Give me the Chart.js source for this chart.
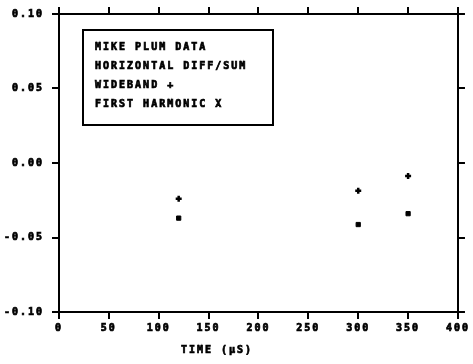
<!DOCTYPE html>
<html>
<head>
<meta charset="utf-8">
<script src="https://cdn.jsdelivr.net/npm/chart.js@4.4.0/dist/chart.umd.min.js"></script>
<style>
  html, body { margin: 0; padding: 0; background: #fff; }
  .chart { width: 473px; height: 364px; }
</style>
</head>
<body>
<div class="chart"><canvas id="plum-chart" width="473" height="364"></canvas></div>
<script>
// time in microseconds
const times = [120, 300, 350];
const wideband = [-0.024, -0.0187, -0.0087];
const firstHarmonic = [-0.037, -0.0413, -0.034];

const xTicks = [0, 50, 100, 150, 200, 250, 300, 350, 400];
const yTicks = [-0.1, -0.05, 0, 0.05, 0.1];

const noteLines = ['MIKE PLUM DATA', 'HORIZONTAL DIFF/SUM', 'WIDEBAND +', 'FIRST HARMONIC X'];
const axisTitle = 'TIME (μS)';

const FONT = { family: '"DejaVu Sans Mono", monospace', size: 10, weight: 'bold' };
const INK = '#000';

// plotter style spacing on every label
const spacing = {
  id: 'spacing',
  beforeLayout: (chart) => { chart.ctx.letterSpacing = '2px'; },
  beforeDraw: (chart) => { chart.ctx.letterSpacing = '2px'; },
};

// note box in the upper left and the axis title
const annotations = {
  id: 'annotations',
  afterDraw: (chart) => {
    const { ctx, chartArea } = chart;
    ctx.save();
    ctx.letterSpacing = '2px';
    ctx.strokeStyle = INK;
    ctx.lineWidth = 2;
    ctx.strokeRect(chartArea.left + 24, chartArea.top + 16, 190, 95);
    ctx.fillStyle = INK;
    ctx.lineWidth = 0.7;
    ctx.font = `bold 10px ${FONT.family}`;
    ctx.textBaseline = 'middle';
    ctx.textAlign = 'left';
    noteLines.forEach((line, i) => {
      const x = chartArea.left + 36;
      const y = chartArea.top + 33 + i * 19;
      ctx.fillText(line, x, y);
      ctx.strokeText(line, x, y);
    });
    ctx.textAlign = 'center';
    const tx = chartArea.left + 158;
    const ty = chartArea.bottom + 38;
    ctx.fillText(axisTitle, tx, ty);
    ctx.strokeText(axisTitle, tx, ty);
    ctx.restore();
  },
};

const pts = (ys) => times.map((t, i) => ({ x: t, y: ys[i] }));

const frame = (extra) => Object.assign({
  min: 0,
  max: 400,
  border: { display: true, color: INK, width: 2 },
  grid: { drawOnChartArea: false, drawTicks: true, tickLength: 7, color: INK, lineWidth: 2 },
}, extra);

const tickText = { color: INK, font: FONT, textStrokeColor: INK, textStrokeWidth: 0.7 };

new Chart(document.getElementById('plum-chart'), {
  type: 'scatter',
  data: {
    datasets: [
      {
        label: 'WIDEBAND',
        data: pts(wideband),
        pointStyle: 'cross',
        pointRadius: 3,
        borderWidth: 2.5,
        borderColor: INK,
        backgroundColor: INK,
      },
      {
        label: 'FIRST HARMONIC',
        data: pts(firstHarmonic),
        pointStyle: 'rect',
        pointRadius: 3,
        borderWidth: 1,
        borderColor: INK,
        backgroundColor: INK,
      },
    ],
  },
  options: {
    responsive: false,
    animation: false,
    layout: { padding: 0 },
    plugins: { legend: { display: false }, tooltip: { enabled: false } },
    scales: {
      x: frame({
        position: 'bottom',
        afterBuildTicks: (s) => { s.ticks = xTicks.map((v) => ({ value: v })); },
        ticks: { ...tickText, padding: 3, maxRotation: 0 },
        afterFit: (s) => { s.height = 52; },
      }),
      x2: frame({
        position: 'top',
        afterBuildTicks: (s) => { s.ticks = xTicks.map((v) => ({ value: v })); },
        ticks: { display: false },
        afterFit: (s) => { s.height = 12; },
      }),
      y: frame({
        position: 'left',
        min: -0.1,
        max: 0.1,
        afterBuildTicks: (s) => { s.ticks = yTicks.map((v) => ({ value: v })); },
        ticks: {
          ...tickText,
          padding: 8,
          callback: (v) => (Math.abs(v) < 1e-9 ? '0.00' : v.toFixed(2)),
        },
        afterFit: (s) => { s.width = 59; },
      }),
      y2: frame({
        position: 'right',
        min: -0.1,
        max: 0.1,
        afterBuildTicks: (s) => { s.ticks = yTicks.map((v) => ({ value: v })); },
        ticks: { display: false },
        afterFit: (s) => { s.width = 12; },
      }),
    },
  },
  plugins: [spacing, annotations],
});
</script>
</body>
</html>
